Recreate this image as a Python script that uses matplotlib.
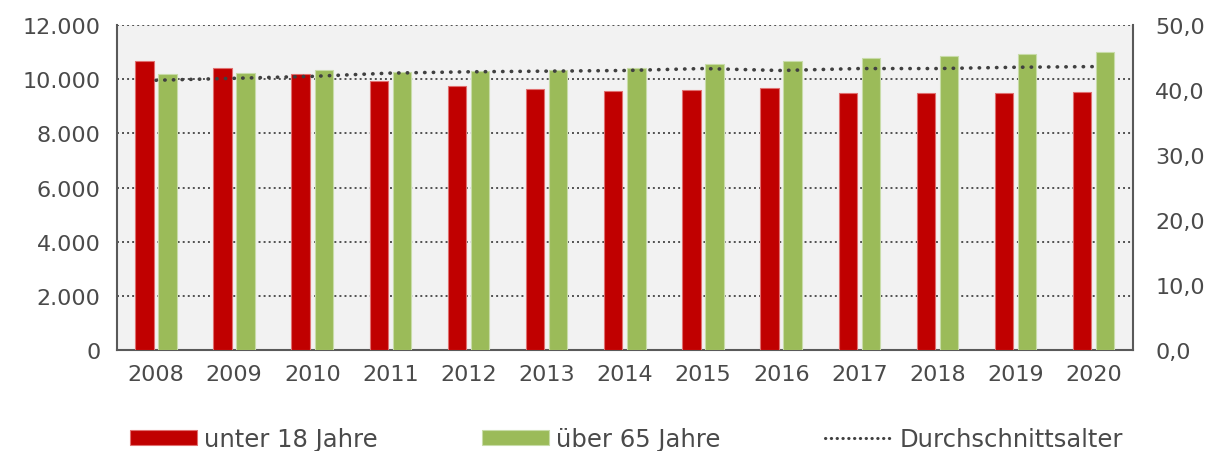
import matplotlib
matplotlib.use("Agg")
import matplotlib.pyplot as plt
import numpy as np
from matplotlib.ticker import FuncFormatter, FixedLocator
from matplotlib.lines import Line2D

years = ["2008", "2009", "2010", "2011", "2012", "2013", "2014",
         "2015", "2016", "2017", "2018", "2019", "2020"]
unter18 = [10660, 10400, 10190, 9930, 9760, 9640, 9560, 9600, 9670, 9480, 9490, 9480, 9530]
ueber65 = [10190, 10230, 10340, 10280, 10320, 10340, 10400, 10560, 10660, 10780, 10840, 10940, 11020]
durchschnitt = [41.5, 41.8, 42.1, 42.6, 42.8, 42.9, 43.0, 43.3, 43.0, 43.3, 43.3, 43.5, 43.6]

RED = "#c00000"
GREEN = "#9bbb59"
TXT = "#4a4a4a"
FS = 16

fig = plt.figure(figsize=(12.21, 4.52), dpi=100)
ax = fig.add_axes([117/1221, 1-351/452, (1133-117)/1221, (351-26)/452])
ax.set_facecolor("#f2f2f2")
x = np.arange(len(years))
w = 0.235
b1 = ax.bar(x - 0.15, unter18, w, color=RED, edgecolor="#e07070", linewidth=0.8, label="unter 18 Jahre", zorder=3)
b2 = ax.bar(x + 0.145, ueber65, w, color=GREEN, edgecolor="#c8dca8", linewidth=0.8, label="über 65 Jahre", zorder=3)
ax.set_xlim(-0.5, len(years) - 0.5)
ax.set_ylim(0, 12000)
ax.yaxis.set_major_locator(FixedLocator(np.arange(0, 12001, 2000)))
ax.yaxis.set_major_formatter(FuncFormatter(lambda v, p: f"{int(v):,}".replace(",", ".")))
ax.set_xticks(x)
ax.set_xticklabels(years)
ax.grid(axis="y", color="#505050", linestyle=(0, (1.0, 1.6)), linewidth=1.4, zorder=1)
ax.set_axisbelow(True)
ax.spines["top"].set_visible(False)
for s in ["left", "right", "bottom"]:
    ax.spines[s].set_color("#595959")
    ax.spines[s].set_linewidth(1.5)
ax.tick_params(axis="both", length=0, labelsize=FS, colors=TXT, pad=10)
ax.tick_params(axis="y", pad=12)

ax2 = ax.twinx()
ln, = ax2.plot(x, durchschnitt, color="#404040", linestyle=(0, (0.1, 2.3)), linewidth=2.6,
               dash_capstyle="round", label="Durchschnittsalter", zorder=4)
ax2.set_ylim(0, 50)
ax2.yaxis.set_major_locator(FixedLocator(np.arange(0, 51, 10)))
ax2.yaxis.set_major_formatter(FuncFormatter(lambda v, p: f"{v:.1f}".replace(".", ",")))
ax2.tick_params(axis="y", length=0, labelsize=FS, colors=TXT, pad=16)
for s in ["top", "left", "right", "bottom"]:
    ax2.spines[s].set_visible(False)

leg_line = Line2D([], [], color="#404040", linestyle=(0, (0.1, 1.8)), linewidth=2.2, dash_capstyle="round")
fig.legend([b1, b2, leg_line], ["unter 18 Jahre", "über 65 Jahre", "Durchschnittsalter"],
           loc="center", bbox_to_anchor=(0.513, 0.026), ncol=3, frameon=False,
           fontsize=17.5, handlelength=2.75, handleheight=0.6, columnspacing=4.3,
           handletextpad=0.3, labelcolor=TXT)

fig.savefig("out.png", dpi=100)
